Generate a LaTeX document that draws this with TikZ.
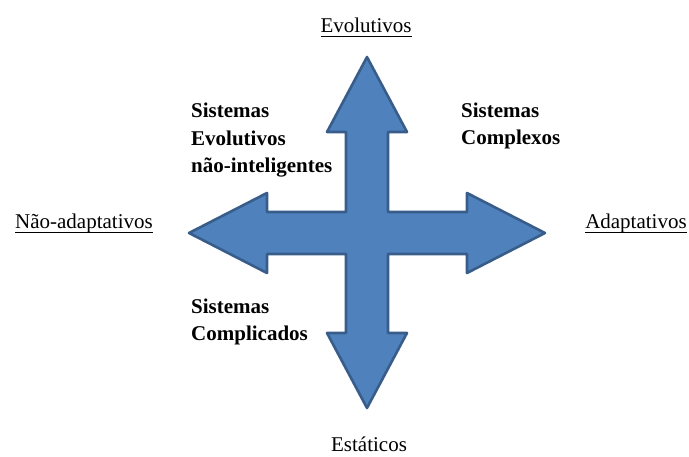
\documentclass[tikz,border=0pt]{standalone}
\usepackage{fontspec}
\setmainfont{Liberation Serif}
\usepackage{tikz}
\usetikzlibrary{positioning}
\definecolor{crossfill}{HTML}{4F81BD}
\definecolor{crossline}{HTML}{385D8A}
\newcommand{\axisul}[1]{\setbox0\hbox{#1}\rlap{\rule[-4.5pt]{\wd0}{1.8pt}}\box0}
\tikzstyle{cross}=[draw=crossline,fill=crossfill,line width=2.6pt,line join=round]
\tikzstyle{axislabel}=[inner sep=0pt,font=\fontsize{21}{28}\selectfont]
\tikzstyle{syslabel}=[inner sep=0pt,align=left,font=\fontsize{21}{27.7}\selectfont\bfseries]

\begin{document}
\begin{tikzpicture}[x=1pt,y=-1pt]
    \useasboundingbox (0,0) rectangle (689,457);
    % The four-headed arrow, centre at (367,233)
    \path[cross] (367,57) -- (407,132) -- (388,132) -- (388,212) -- (467,212) -- (467,193)
        -- (545,233) -- (467,273) -- (467,254) -- (388,254) -- (388,333) -- (407,333)
        -- (367,408) -- (327,333) -- (346,333) -- (346,254) -- (267,254) -- (267,273)
        -- (189,233) -- (267,193) -- (267,212) -- (346,212) -- (346,132) -- (327,132) -- cycle;

    % Axis ends
    \foreach \pos/\name/\txt in {{(366,33)/evolutivos/\axisul{Evolutivos}},
            {(84,229)/naoadapt/\axisul{Não-adaptativos}},
            {(636,229)/adaptativos/\axisul{Adaptativos}},
            {(369,452)/estaticos/Estáticos}}
        \node[axislabel,anchor=base] (\name) at \pos {\txt};

    % Quadrants (anchored at the baseline of the last line)
    \node[syslabel,anchor=base west] (naointel) at (191,173) {Sistemas\\Evolutivos\\não-inteligentes};
    \node[syslabel,anchor=base west] (complexos) at (461,145) {Sistemas\\Complexos};
    \node[syslabel,anchor=base west] (complicados) at (191,341) {Sistemas\\Complicados};
\end{tikzpicture}
\end{document}
